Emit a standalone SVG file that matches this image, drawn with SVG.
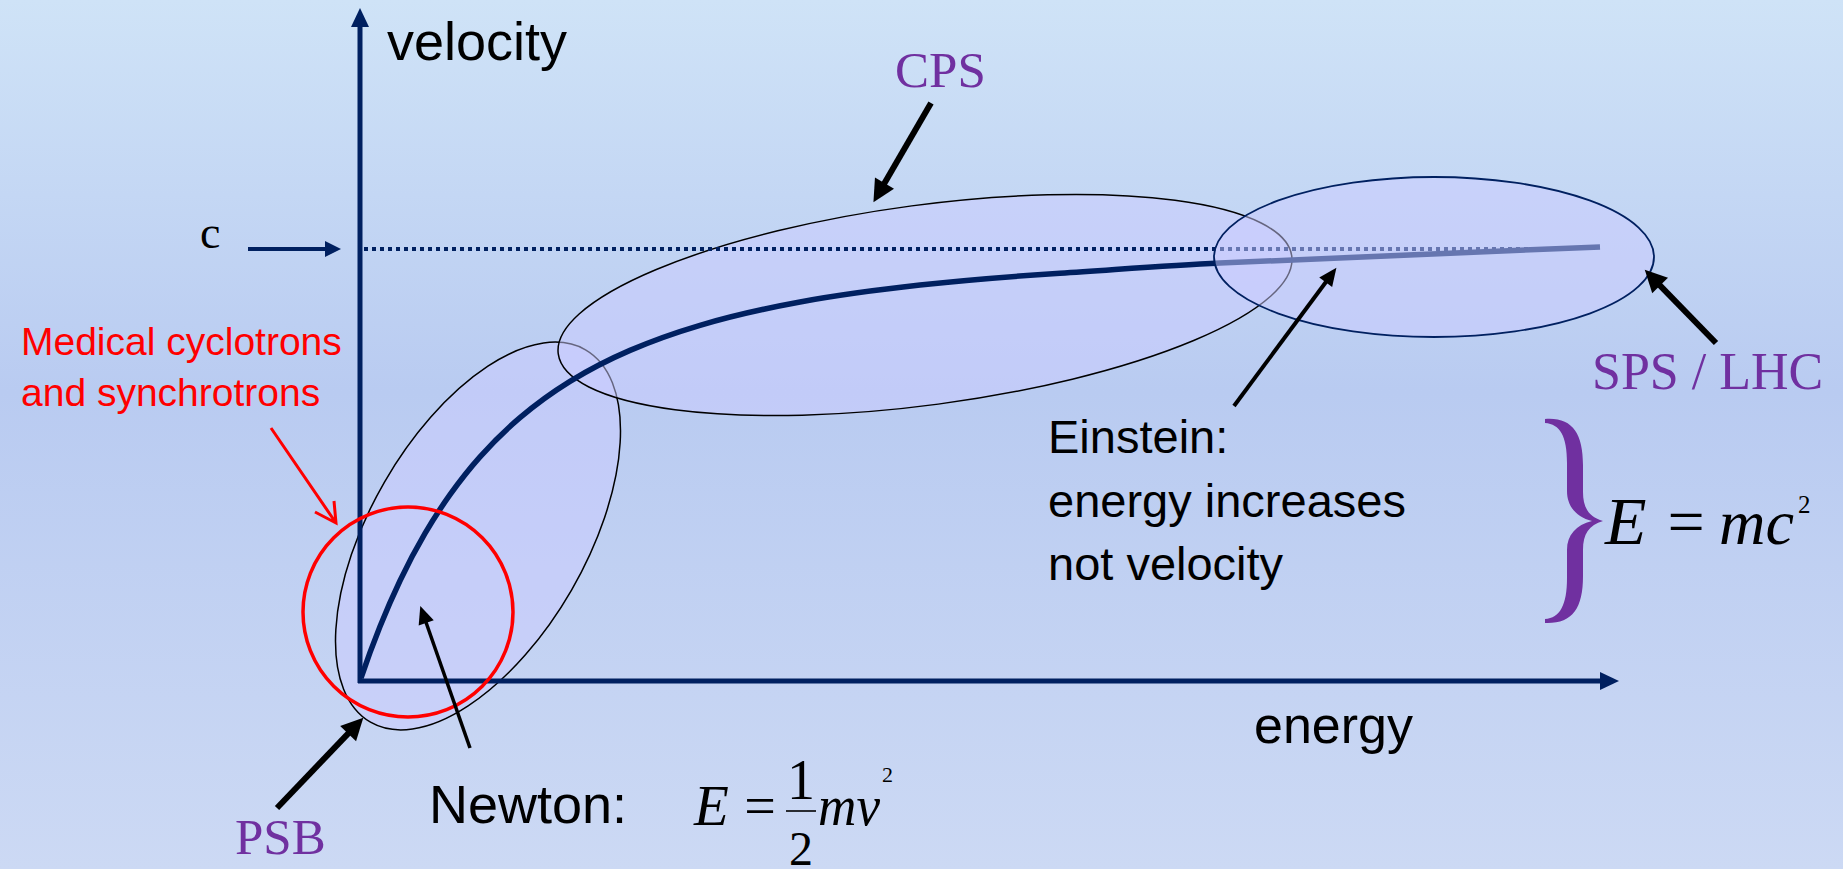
<svg xmlns="http://www.w3.org/2000/svg" width="1843" height="869" viewBox="0 0 1843 869">
<defs>
<linearGradient id="bg" x1="0" y1="0" x2="0" y2="1">
<stop offset="0" stop-color="#cfe3f7"/>
<stop offset="0.45" stop-color="#b9cbf1"/>
<stop offset="1" stop-color="#ccd9f4"/>
</linearGradient>
<marker id="ahL" markerUnits="userSpaceOnUse" viewBox="0 -11 22 22" refX="1" refY="0" markerWidth="22" markerHeight="22" orient="auto" overflow="visible"><path d="M0,-11 L22,0 L0,11 z" fill="#000"/></marker>
<marker id="ahM" markerUnits="userSpaceOnUse" viewBox="0 -8 18 16" refX="1" refY="0" markerWidth="18" markerHeight="16" orient="auto" overflow="visible"><path d="M0,-8 L18,0 L0,8 z" fill="#000"/></marker>
<marker id="ahN" markerUnits="userSpaceOnUse" viewBox="0 -9 19 18" refX="1" refY="0" markerWidth="19" markerHeight="18" orient="auto" overflow="visible"><path d="M0,-9 L19,0 L0,9 z" fill="#002060"/></marker>
<marker id="ahC" markerUnits="userSpaceOnUse" viewBox="0 -8 16 16" refX="1" refY="0" markerWidth="16" markerHeight="16" orient="auto" overflow="visible"><path d="M0,-8 L16,0 L0,8 z" fill="#002060"/></marker>
</defs>
<style>
.zone{fill:#ccccff;fill-opacity:0.5;stroke:#000;stroke-width:1.5}
.sans{font-family:"Liberation Sans",Arial,sans-serif;fill:#000}
.serif{font-family:"Liberation Serif","Times New Roman",serif;fill:#000}
.acc{font-family:"Liberation Serif","Times New Roman",serif;fill:#7030a0}
.it{font-style:italic}
.arr{stroke:#000;fill:none;stroke-linecap:butt}
.navy{stroke:#002060;fill:none}
</style>
<rect x="0" y="0" width="1843" height="869" fill="url(#bg)"/>

<g id="psb-zone"><ellipse class="zone" cx="478" cy="536" rx="215" ry="108" transform="rotate(-60 478 536)"/></g>
<g id="cps-zone"><ellipse class="zone" cx="925" cy="305" rx="370" ry="100" transform="rotate(-7.6 925 305)"/></g>

<g id="axes">
<line class="navy" x1="360" y1="683" x2="360" y2="26" stroke-width="5" marker-end="url(#ahN)"/>
<line class="navy" x1="358" y1="681" x2="1601" y2="681" stroke-width="5" marker-end="url(#ahN)"/>
<line class="navy" x1="364" y1="249" x2="1552" y2="249" stroke-width="4" stroke-dasharray="4 4"/>
</g>

<g id="curve">
<path class="navy" stroke-width="5.5" d="M361,678 C367.33,659.3 373.67,642.3 380,626.5 C386.67,609.9 393.33,594.7 400,580.7 C408.33,563.2 416.67,547.6 425,533.4 C433.33,519.2 441.67,506.4 450,494.7 C460,480.7 470,468.1 480,456.9 C493.33,441.9 506.67,429 520,417.7 C536.67,403.5 553.33,391.7 570,381.4 C590,369.1 610,359 630,350.4 C653.33,340.3 676.67,332.2 700,325.3 C733.33,315.4 766.67,308.1 800,302 C840,294.7 880,289.5 920,285.1 C966.67,280 1013.33,276.3 1060,273.3 C1113.33,269.9 1166.67,265.4 1220,263 C1346.67,257.3 1473.33,252.1 1600,247"/>
</g>

<g id="sps-zone"><ellipse class="zone" cx="1434" cy="257" rx="220" ry="80" style="stroke:#002060;stroke-width:1.8"/></g>

<g id="medical-zone"><circle cx="408" cy="612" r="105" fill="none" stroke="#ff0000" stroke-width="3.5"/></g>

<g id="labels">
<text class="sans" x="387" y="60" font-size="54">velocity</text>
<text class="sans" x="1254" y="743" font-size="52">energy</text>
<text class="serif" x="200" y="248" font-size="46">c</text>
<text class="acc" x="895" y="87" font-size="51">CPS</text>
<text class="acc" x="1592" y="389" font-size="52">SPS / LHC</text>
<text class="acc" x="235" y="854" font-size="51">PSB</text>
<text class="sans" x="21" y="355" font-size="39" style="fill:#ff0000">Medical cyclotrons</text>
<text class="sans" x="21" y="406" font-size="39" style="fill:#ff0000">and synchrotrons</text>
<text class="sans" x="1048" y="453" font-size="47">Einstein:</text>
<text class="sans" x="1048" y="517" font-size="47">energy increases</text>
<text class="sans" x="1048" y="580" font-size="47">not velocity</text>
<text class="sans" x="429" y="823" font-size="54">Newton:</text>
</g>

<g id="newton-formula">
<text class="serif it" x="694" y="825" font-size="57">E</text>
<text class="serif" x="760" y="825" font-size="56" text-anchor="middle">=</text>
<line x1="786" y1="811" x2="816" y2="811" stroke="#000" stroke-width="1.6"/>
<text class="serif" x="801" y="799" font-size="56" text-anchor="middle">1</text>
<text class="serif" x="801" y="865" font-size="48" text-anchor="middle">2</text>
<text class="serif it" x="818" y="825" font-size="56" textLength="62" lengthAdjust="spacingAndGlyphs">mv</text>
<text class="serif" x="882" y="782" font-size="22">2</text>
</g>

<g id="einstein-formula">
<path fill="#7030a0" d="M1545,419 C1572,417 1583,433 1583,465 L1583,492 C1583,508 1589,517 1603,521 C1589,525 1583,534 1583,550 L1583,576 C1583,609 1572,624 1545,623 L1545,619 C1560,618 1567,605 1567,578 L1567,550 C1567,535 1576,525 1592,521 C1576,517 1567,506 1567,491 L1567,463 C1567,436 1560,424 1545,423 Z"/>
<text class="serif it" x="1605" y="544" font-size="68">E</text>
<text class="serif" x="1686" y="544" font-size="66" text-anchor="middle">=</text>
<text class="serif it" x="1719" y="544" font-size="64" textLength="75" lengthAdjust="spacingAndGlyphs">mc</text>
<text class="serif" x="1798" y="513" font-size="25">2</text>
</g>

<g id="connectors">
<line class="navy" x1="248" y1="249" x2="326" y2="249" stroke-width="4" marker-end="url(#ahC)"/>
<line class="arr" x1="931" y1="103" x2="884" y2="184" stroke-width="6" marker-end="url(#ahL)"/>
<line class="arr" x1="1716" y1="343" x2="1659.4" y2="284.8" stroke-width="6" marker-end="url(#ahL)"/>
<line class="arr" x1="277" y1="808" x2="348.8" y2="732.9" stroke-width="6" marker-end="url(#ahL)"/>
<line class="arr" x1="1234" y1="406" x2="1326.3" y2="281.5" stroke-width="4" marker-end="url(#ahM)"/>
<line class="arr" x1="470" y1="748" x2="425.9" y2="622" stroke-width="3.5" marker-end="url(#ahM)"/>
<path d="M271,428 L336,523 M315,512 L336,523 L334,501" fill="none" stroke="#ff0000" stroke-width="3"/>
</g>
</svg>
